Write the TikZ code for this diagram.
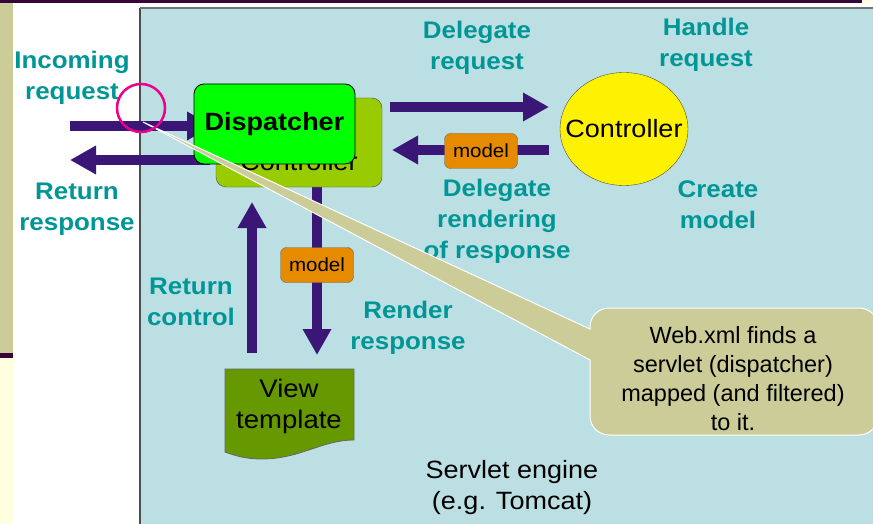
\documentclass[tikz,border=0pt]{standalone}
\usepackage{fontspec}
\setmainfont{Liberation Sans}
\newfontfamily\lbfont[FakeStretch=1.08]{Liberation Sans}
\usetikzlibrary{arrows.meta,shapes.geometric}
\definecolor{panel}{RGB}{187,223,227}
\definecolor{labc}{RGB}{0,150,150}
\definecolor{arrowc}{RGB}{58,22,118}
\definecolor{dispg}{RGB}{0,255,0}
\definecolor{backg}{RGB}{153,204,0}
\definecolor{modelc}{RGB}{230,138,0}
\definecolor{viewg}{RGB}{102,153,0}
\definecolor{khakic}{RGB}{204,204,153}
\definecolor{creamc}{RGB}{255,255,224}
\definecolor{barp}{RGB}{55,5,55}
\pgfdeclarelayer{bg}
\pgfdeclarelayer{arr}
\pgfdeclarelayer{top}
\pgfsetlayers{bg,arr,main,top}
\tikzset{
  blockarrow/.style={draw=arrowc, line width=9.5pt, -{Triangle[length=26pt 0 0, width=27pt 0 0]}},
  lbl/.style={text=labc, align=center, inner sep=0pt, font=\lbfont\bfseries\fontsize{24}{31}\selectfont},
  modelbox/.style={fill=modelc, draw=black!60, rounded corners=6pt, minimum width=73pt, minimum height=35pt, inner sep=0pt, font=\lbfont\fontsize{19}{22}\selectfont},
}
\begin{document}
\begin{tikzpicture}[x=1pt,y=-1pt]
\useasboundingbox (0,0) rectangle (873,524);
\begin{pgfonlayer}{bg}
  \fill[white] (0,0) rectangle (873,524);
  \fill[barp] (0,0) rectangle (862,3);
  \fill[creamc] (862,0) rectangle (873,3);
  \fill[khakic] (0,3) rectangle (13,353);
  \fill[barp] (0,353) rectangle (13,358);
  \fill[creamc] (0,358) rectangle (13,524);
  \filldraw[fill=panel, draw=black!70, line width=1.2pt] (140,8.5) rectangle (885,535);
  \draw[black!55, line width=2.5pt] (140,8) -- (885,8);
\end{pgfonlayer}

% controller box behind dispatcher
\node[fill=backg, draw=black!70, rounded corners=10pt, minimum width=166pt, minimum height=89pt, inner sep=0pt] (ctlback) at (299,142.5) {};
\node[anchor=base, inner sep=0pt, font=\lbfont\fontsize{25}{30}\selectfont] (ctltext) at (299,171) {Controller};
% dispatcher
\node[fill=dispg, draw=black, line width=0.8pt, rounded corners=10pt, minimum width=161pt, minimum height=80pt, inner sep=0pt, font=\lbfont\bfseries\fontsize{25}{30}\selectfont] (disp) at (274.5,124) {Dispatcher};
% controller ellipse
\node[ellipse, fill=yellow, draw=black!70, minimum width=128pt, minimum height=113pt, inner sep=0pt] (ctl) at (624,129) {};
\node[inner sep=0pt, font=\lbfont\fontsize{25}{30}\selectfont] (ctllbl) at (ctl.center) {Controller};
% model boxes
\node[modelbox] (m1) at (481,151) {model};
\node[modelbox] (m2) at (317,265) {model};
% view template
\filldraw[fill=viewg, draw=black!60, line width=0.8pt] (225,369) -- (354,369) -- (354,440)
  .. controls (322,440) and (300,459) .. (262,459)
  .. controls (246,459) and (236,456) .. (225,452) -- cycle;
\node[align=center, inner sep=0pt, font=\lbfont\fontsize{25.5}{31}\selectfont] (view) at (289,406) {View\\template};

% labels
\node[lbl] (lin) at (72,78) {Incoming\\request};
\node[lbl] (lret) at (77,209) {Return\\response};
\node[lbl] (ldel) at (477,48) {Delegate\\request};
\node[lbl] (lhan) at (706,45) {Handle\\request};
\node[lbl] (lrend) at (497,221) {Delegate\\rendering\\of response};
\node[lbl] (lcre) at (718,205) {Create\\model};
\node[lbl] (lrc) at (191,302) {Return\\control};
\node[lbl] (lrr) at (408,328) {Render\\response};
\node[align=center, inner sep=0pt, font=\lbfont\fontsize{25}{31}\selectfont] (eng) at (512,488) {Servlet engine\\(e.g. Tomcat)};

% arrows
\coordinate (inA) at (70,126);
\coordinate (inB) at (213,126);
\coordinate (retA) at (210,160);
\coordinate (retB) at (70,160);
\coordinate (delA) at (390,107);
\coordinate (delB) at (549,107);
\coordinate (mbA) at (549,150);
\coordinate (mbB) at (392,150);
\coordinate (dnA) at (317,186);
\coordinate (dnB) at (317,355);
\coordinate (upA) at (252,353);
\coordinate (upB) at (252,202);
\begin{pgfonlayer}{arr}
  \draw[blockarrow] (inA) -- (inB);
  \draw[blockarrow] (retA) -- (retB);
  \draw[blockarrow] (delA) -- (delB);
  \draw[blockarrow] (mbA) -- (mbB);
  \draw[blockarrow] (dnA) -- (dnB);
  \draw[blockarrow] (upA) -- (upB);
\end{pgfonlayer}

% callout
\begin{pgfonlayer}{top}
  \filldraw[fill=khakic, draw=white, line width=1pt] (143,122) -- (590,329)
    [rounded corners=19pt] -- (590,308) -- (878,308) -- (878,435) -- (590,435)
    [sharp corners] -- (590,360) -- cycle;
  \node[align=center, inner sep=0pt, font=\fontsize{23.5}{29}\selectfont] (note) at (733,379) {Web.xml finds a\\servlet (dispatcher)\\mapped (and filtered)\\to it.};
  \node[circle, draw=magenta, line width=2.5pt, minimum size=48pt, inner sep=0pt] (hl) at (141,108) {};
\end{pgfonlayer}
\end{tikzpicture}
\end{document}
